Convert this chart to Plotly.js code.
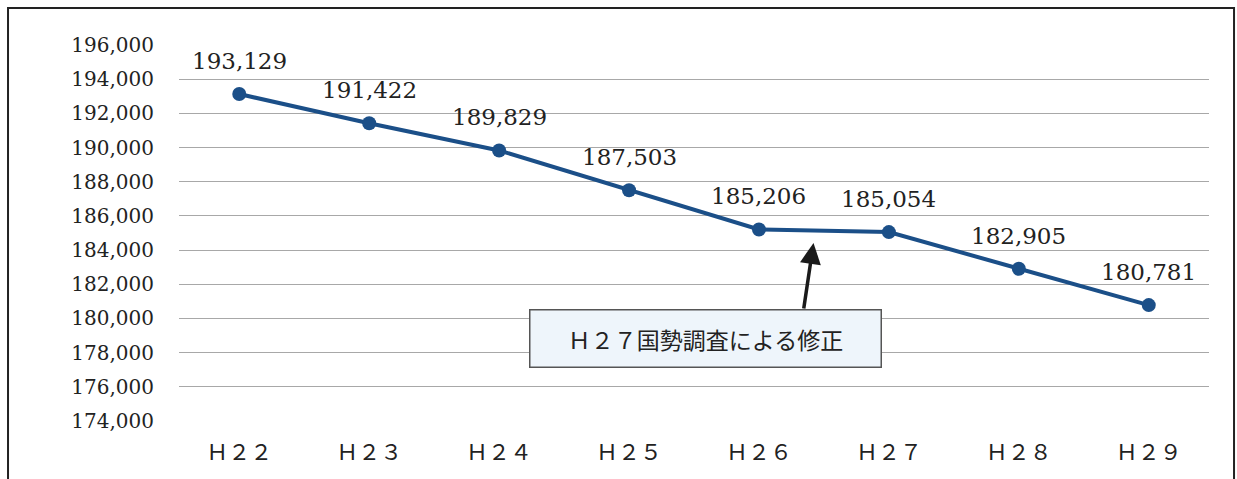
<!DOCTYPE html>
<html><head><meta charset="utf-8">
<script src="https://cdn.plot.ly/plotly-3.0.1.min.js"></script>
<style>html,body{margin:0;padding:0;background:#fff}#chart{width:1237px;height:479px}</style>
</head><body><div id="chart"></div>
<script>
const categories = ['Ｈ２２','Ｈ２３','Ｈ２４','Ｈ２５','Ｈ２６','Ｈ２７','Ｈ２８','Ｈ２９'];
const population = [193129, 191422, 189829, 187503, 185206, 185054, 182905, 180781];
const yTicks = [174000,176000,178000,180000,182000,184000,186000,188000,190000,192000,194000,196000];
const noteText = 'Ｈ２７国勢調査による修正';

const serif = 'DejaVu Serif, Liberation Serif, Noto Sans CJK JP, serif';
const fmt = v => v.toLocaleString('en-US');

const labelAnns = categories.map((c, i) => ({
  x: c, y: population[i], xref: 'x', yref: 'y', text: fmt(population[i]),
  showarrow: false, yshift: 33, font: {family: serif, size: 23, color: '#222'}
}));

const data = [{
  type: 'scatter', mode: 'lines+markers', x: categories, y: population,
  line: {color: '#1b4f88', width: 4},
  marker: {color: '#1b4f88', size: 14},
  hoverinfo: 'x+y'
}];

const layout = {
  width: 1237, height: 479,
  margin: {l: 179, r: 28, t: 45, b: 58},
  paper_bgcolor: '#fff', plot_bgcolor: '#fff',
  showlegend: false,
  xaxis: {
    type: 'category', showgrid: false, zeroline: false, showline: false,
    ticks: '', ticklabelstandoff: 16,
    tickfont: {family: serif, size: 22, color: '#222'}
  },
  yaxis: {
    range: [174000, 196000], tickvals: yTicks, ticktext: yTicks.map(fmt),
    showgrid: true, gridcolor: '#a8a8a8', gridwidth: 1,
    zeroline: false, showline: false, ticks: '', ticklabelstandoff: 24,
    tickfont: {family: serif, size: 20, color: '#222'}
  },
  shapes: [{
    type: 'rect', xref: 'paper', yref: 'paper',
    x0: -0.166, x1: 1.0243, y0: -0.2, y1: 1.0984,
    line: {color: '#222', width: 2}, fillcolor: 'rgba(0,0,0,0)'
  }],
  annotations: labelAnns.concat([
    {
      x: 4.42, y: 184420, xref: 'x', yref: 'y', text: '',
      showarrow: true, arrowhead: 2, arrowsize: 1.2, arrowwidth: 3.5, arrowcolor: '#1a1a1a',
      ax: -10, ay: 67, standoff: 0
    },
    {
      x: 3.59, y: 178840, xref: 'x', yref: 'y', text: noteText,
      showarrow: false, bgcolor: '#eef5fb', bordercolor: '#555', borderwidth: 1.5,
      width: 348, height: 54, align: 'center',
      font: {family: 'Noto Sans CJK JP, sans-serif', size: 23, color: '#222'}
    }
  ])
};

Plotly.newPlot('chart', data, layout, {staticPlot: true});
</script></body></html>
